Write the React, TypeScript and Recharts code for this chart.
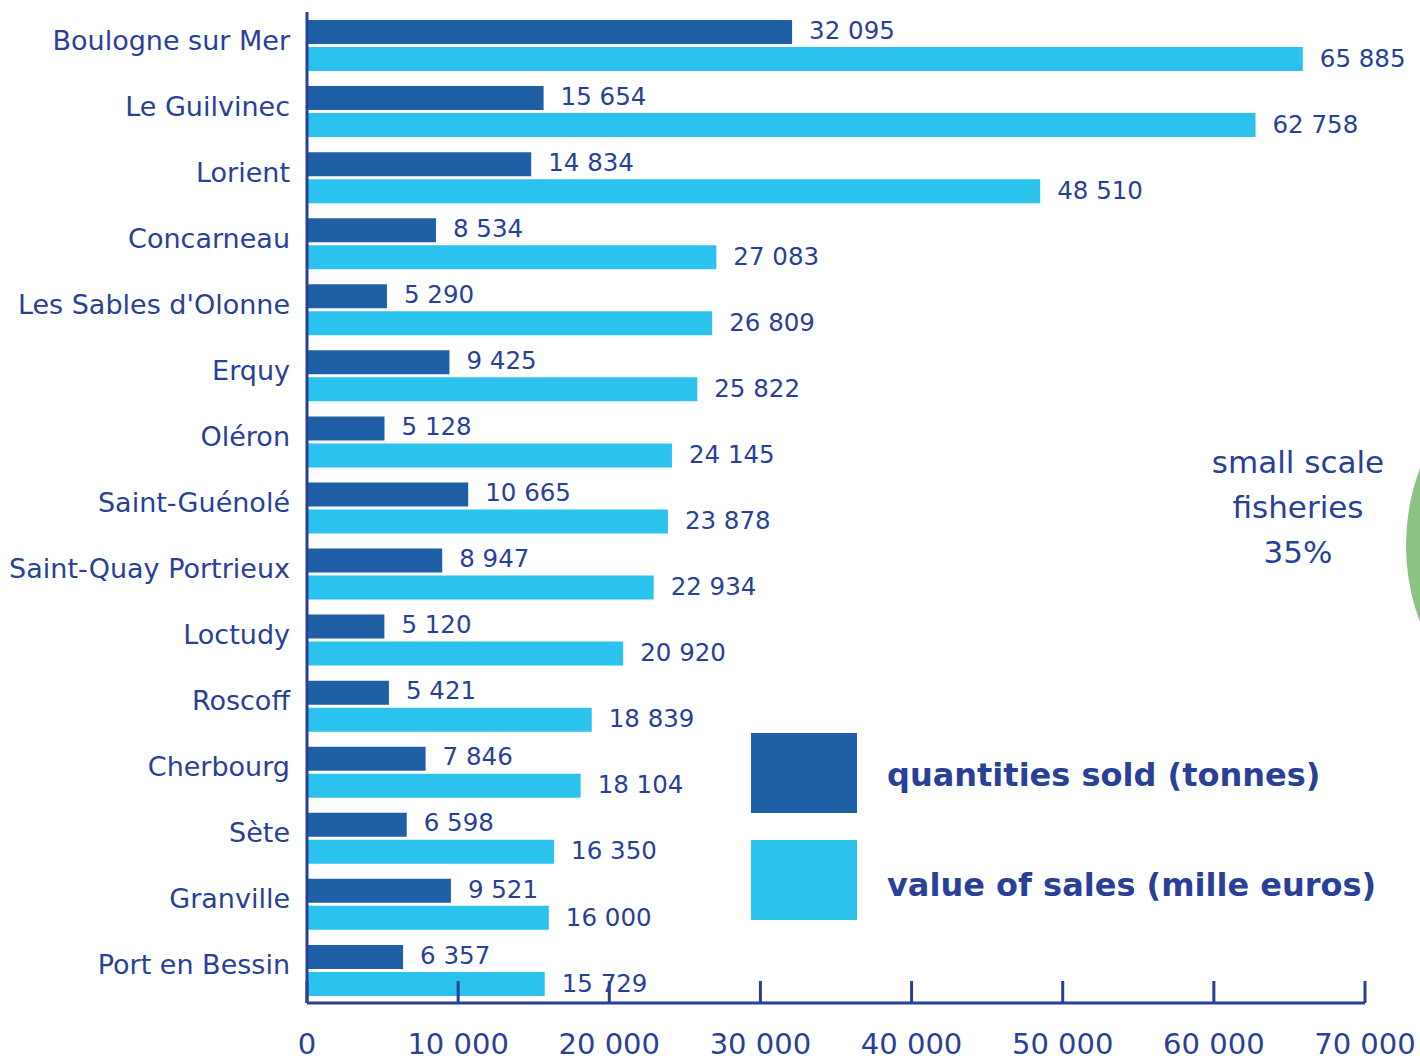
import React from 'react';
import { BarChart, Bar, XAxis, YAxis, LabelList, Legend, PieChart, Pie, Cell } from 'recharts';

const ports = [
  'Boulogne sur Mer', 'Le Guilvinec', 'Lorient', 'Concarneau', "Les Sables d'Olonne",
  'Erquy', 'Oléron', 'Saint-Guénolé', 'Saint-Quay Portrieux', 'Loctudy',
  'Roscoff', 'Cherbourg', 'Sète', 'Granville', 'Port en Bessin',
];
const quantities = [32095, 15654, 14834, 8534, 5290, 9425, 5128, 10665, 8947, 5120, 5421, 7846, 6598, 9521, 6357];
const salesValues = [65885, 62758, 48510, 27083, 26809, 25822, 24145, 23878, 22934, 20920, 18839, 18104, 16350, 16000, 15729];
const xTicks = [0, 10000, 20000, 30000, 40000, 50000, 60000, 70000];
const seriesNames = ['quantities sold (tonnes)', 'value of sales (mille euros)'];
const pieData = [
  { name: 'small scale fisheries', value: 35 },
  { name: 'other', value: 65 },
];
const pieLabelLines = ['small scale', 'fisheries', '35%'];

const TEXT = '#2a3f98';
const DARK = '#1e5fa6';
const LIGHT = '#2bc2ed';
const GREEN = '#8cc284';
const FONT = '"DejaVu Sans", sans-serif';

const data = ports.map((p, i) => ({ port: p, qty: quantities[i], val: salesValues[i] }));

const fmt = (v: any) => String(v).replace(/\B(?=(\d{3})+(?!\d))/g, ' ');

const XTick = (props: any) => {
  const { x, y, payload } = props;
  return (
    <g>
      <line x1={x} x2={x} y1={y - 22} y2={y} stroke={TEXT} strokeWidth={3} />
      <text x={x} y={y + 51} textAnchor="middle" fill={TEXT} fontSize={29} fontFamily={FONT}>
        {fmt(payload.value)}
      </text>
    </g>
  );
};

const YTick = (props: any) => {
  const { x, y, payload } = props;
  return (
    <text x={x} y={y - 5} textAnchor="end" dominantBaseline="central" fill={TEXT} fontSize={27} fontFamily={FONT}>
      {payload.value}
    </text>
  );
};

const LegendContent = () => (
  <div style={{ fontFamily: FONT }}>
    {[DARK, LIGHT].map((c, i) => (
      <div key={i} style={{ display: 'flex', alignItems: 'center', height: 80, marginBottom: i === 0 ? 27 : 0 }}>
        <div style={{ width: 106, height: 80, background: c }} />
        <div style={{ marginLeft: 30, fontSize: 32, fontWeight: 'bold', color: TEXT, whiteSpace: 'nowrap', marginTop: i === 0 ? 4 : 10 }}>
          {seriesNames[i]}
        </div>
      </div>
    ))}
  </div>
);

export default function App() {
  return (
    <div style={{ position: 'absolute', left: 0, top: 0, width: 1420, height: 1060, overflow: 'hidden', background: '#fff' }}>
      <div style={{ position: 'absolute', left: 1150, top: 290 }}>
        <PieChart width={700} height={500}>
          <Pie
            data={pieData}
            dataKey="value"
            cx={470}
            cy={250}
            outerRadius={219}
            innerRadius={0}
            startAngle={90}
            endAngle={450}
            stroke="none"
            isAnimationActive={false}
          >
            <Cell fill={GREEN} />
            <Cell fill="#3b8f4a" />
          </Pie>
        </PieChart>
      </div>
      <div
        style={{
          position: 'absolute', left: 1198, top: 440, width: 200, textAlign: 'center',
          fontFamily: FONT, fontSize: 31, lineHeight: '45px', color: TEXT,
        }}
      >
        {pieLabelLines.map((l) => (
          <div key={l}>{l}</div>
        ))}
      </div>
      <div style={{ position: 'absolute', left: 0, top: 0 }}>
        <BarChart
          width={1420}
          height={1060}
          data={data}
          layout="vertical"
          margin={{ top: 12, right: 55, bottom: 0, left: 0 }}
          barSize={24}
          barGap={3}
        >
          <XAxis
            type="number"
            domain={[0, 70000]}
            ticks={xTicks}
            height={57}
            axisLine={{ stroke: TEXT, strokeWidth: 3 }}
            tickLine={false}
            tickSize={0}
            tickMargin={0}
            tick={<XTick />}
            interval={0}
          />
          <YAxis
            type="category"
            dataKey="port"
            width={307}
            axisLine={{ stroke: TEXT, strokeWidth: 3 }}
            tickLine={false}
            tickSize={0}
            tickMargin={17}
            tick={<YTick />}
            interval={0}
          />
          <Legend
            layout="vertical"
            verticalAlign="middle"
            align="center"
            content={<LegendContent />}
            wrapperStyle={{ position: 'absolute', left: 751, top: 733, width: 660 }}
          />
          <Bar dataKey="qty" name={seriesNames[0]} fill={DARK} isAnimationActive={false}>
            <LabelList dataKey="qty" position="right" offset={17} formatter={fmt} fill={TEXT} fontSize={24.5} fontFamily={FONT} dy={-2} />
          </Bar>
          <Bar dataKey="val" name={seriesNames[1]} fill={LIGHT} isAnimationActive={false}>
            <LabelList dataKey="val" position="right" offset={17} formatter={fmt} fill={TEXT} fontSize={24.5} fontFamily={FONT} dy={-1} />
          </Bar>
        </BarChart>
      </div>
    </div>
  );
}
